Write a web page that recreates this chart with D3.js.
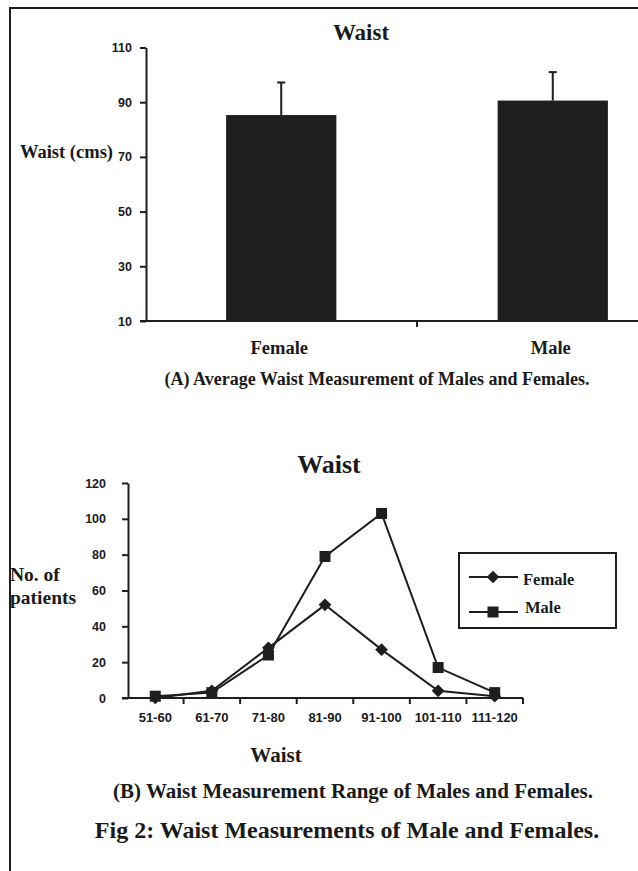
<!DOCTYPE html>
<html>
<head>
<meta charset="utf-8">
<script src="https://cdn.jsdelivr.net/npm/d3@7"></script>
<style>
  body { margin: 0; background: #fff; }
  svg { display: block; }
  .serif { font-family: "Liberation Serif", "Times New Roman", serif; font-weight: bold; fill: #1a1a1a; }
  .sans { font-family: "Liberation Sans", Arial, sans-serif; font-weight: bold; fill: #1a1a1a; }
</style>
</head>
<body>
<div id="chart"></div>
<script>
// (A) average waist
const sexes = ['Female', 'Male']
const avgWaist = [85.3, 90.6]
const waistErr = [11.9, 10.4]
const barTicks = [10, 30, 50, 70, 90, 110]

// (B) waist ranges
const ranges = ['51-60', '61-70', '71-80', '81-90', '91-100', '101-110', '111-120']
const femaleCounts = [0, 4, 28, 52, 27, 4, 1]
const maleCounts = [1, 3, 24, 79, 103, 17, 3]
const countTicks = [0, 20, 40, 60, 80, 100, 120]

const ink = '#1f1d1e'
const width = 638
const height = 871

const svg = d3.select('#chart')
    .append('svg')
    .attr('width', width)
    .attr('height', height)

// page frame
svg.append('path')
    .attr('d', `M10,${height} L10,8 L${width},8`)
    .attr('fill', 'none')
    .attr('stroke', ink)
    .attr('stroke-width', 2)

// ---------- top chart ----------
const xBar = d3.scaleBand().domain(sexes).range([146, 688]).paddingInner(0.594).paddingOuter(0.295)
const yBar = d3.scaleLinear().domain([10, 110]).range([321, 47.5])

svg.append('text').attr('class', 'serif')
    .attr('x', 361).attr('y', 40)
    .attr('text-anchor', 'middle')
    .style('font-size', '23px')
    .text('Waist')

svg.selectAll('rect.bar')
    .data(avgWaist)
    .enter()
    .append('rect')
    .attr('class', 'bar')
    .attr('x', (d, i) => xBar(sexes[i]))
    .attr('y', (d) => yBar(d))
    .attr('width', xBar.bandwidth())
    .attr('height', (d) => yBar(10) - yBar(d))
    .attr('fill', ink)

const errG = svg.selectAll('g.err')
    .data(avgWaist)
    .enter()
    .append('g')
    .attr('class', 'err')
errG.append('line')
    .attr('x1', (d, i) => xBar(sexes[i]) + xBar.bandwidth() / 2)
    .attr('x2', (d, i) => xBar(sexes[i]) + xBar.bandwidth() / 2)
    .attr('y1', (d) => yBar(d))
    .attr('y2', (d, i) => yBar(d + waistErr[i]))
    .attr('stroke', ink).attr('stroke-width', 2)
errG.append('line')
    .attr('x1', (d, i) => xBar(sexes[i]) + xBar.bandwidth() / 2 - 4)
    .attr('x2', (d, i) => xBar(sexes[i]) + xBar.bandwidth() / 2 + 4)
    .attr('y1', (d, i) => yBar(d + waistErr[i]))
    .attr('y2', (d, i) => yBar(d + waistErr[i]))
    .attr('stroke', ink).attr('stroke-width', 2)

const yBarAxis = svg.append('g')
    .attr('transform', 'translate(146,0)')
    .call(d3.axisLeft(yBar).tickValues(barTicks).tickSize(6).tickSizeOuter(0).tickPadding(8))
yBarAxis.select('.domain').attr('stroke', ink).attr('stroke-width', 2)
yBarAxis.selectAll('.tick line').attr('stroke', ink).attr('stroke-width', 2)
yBarAxis.selectAll('.tick text').attr('class', 'sans').style('font-size', '12.5px')

// x axis line + boundary ticks
svg.append('line')
    .attr('x1', 140).attr('x2', 688)
    .attr('y1', yBar(10)).attr('y2', yBar(10))
    .attr('stroke', ink).attr('stroke-width', 2)
svg.selectAll('line.btick')
    .data(sexes.slice(1))
    .enter()
    .append('line')
    .attr('class', 'btick')
    .attr('x1', (d) => xBar(d) - xBar.step() * xBar.paddingInner() / 2)
    .attr('x2', (d) => xBar(d) - xBar.step() * xBar.paddingInner() / 2)
    .attr('y1', yBar(10)).attr('y2', yBar(10) + 6)
    .attr('stroke', ink).attr('stroke-width', 2)

svg.selectAll('text.sexlab')
    .data(sexes)
    .enter()
    .append('text')
    .attr('class', 'serif sexlab')
    .attr('x', (d) => xBar(d) + xBar.bandwidth() / 2 - 2)
    .attr('y', 354)
    .attr('text-anchor', 'middle')
    .style('font-size', '18.5px')
    .text((d) => d)

svg.append('text').attr('class', 'serif')
    .attr('x', 20).attr('y', 158)
    .style('font-size', '18.5px')
    .text('Waist (cms)')

svg.append('text').attr('class', 'serif')
    .attr('x', 377).attr('y', 385)
    .attr('text-anchor', 'middle')
    .style('font-size', '18px')
    .text('(A) Average Waist Measurement of Males and Females.')

// ---------- bottom chart ----------
const xLine = d3.scaleBand().domain(ranges).range([127, 523])
const yLine = d3.scaleLinear().domain([0, 120]).range([698, 483])
const cx = (d) => xLine(d) + xLine.bandwidth() / 2

svg.append('text').attr('class', 'serif')
    .attr('x', 329).attr('y', 473)
    .attr('text-anchor', 'middle')
    .style('font-size', '26px')
    .text('Waist')

const yLineAxis = svg.append('g')
    .attr('transform', 'translate(128,0)')
    .call(d3.axisLeft(yLine).tickValues(countTicks).tickSize(6).tickSizeOuter(0).tickPadding(16))
yLineAxis.select('.domain').attr('stroke', ink).attr('stroke-width', 2)
yLineAxis.selectAll('.tick line').attr('stroke', ink).attr('stroke-width', 2)
yLineAxis.selectAll('.tick text').attr('class', 'sans').style('font-size', '12.5px')

svg.append('line')
    .attr('x1', 122).attr('x2', 523)
    .attr('y1', yLine(0)).attr('y2', yLine(0))
    .attr('stroke', ink).attr('stroke-width', 2)
svg.selectAll('line.rtick')
    .data(ranges)
    .enter()
    .append('line')
    .attr('class', 'rtick')
    .attr('x1', (d) => xLine(d) + xLine.step())
    .attr('x2', (d) => xLine(d) + xLine.step())
    .attr('y1', yLine(0)).attr('y2', yLine(0) + 6)
    .attr('stroke', ink).attr('stroke-width', 2)

svg.selectAll('text.rlab')
    .data(ranges)
    .enter()
    .append('text')
    .attr('class', 'sans rlab')
    .attr('x', (d) => cx(d))
    .attr('y', 722)
    .attr('text-anchor', 'middle')
    .style('font-size', '13px')
    .text((d) => d)

const line = d3.line()
    .x((d, i) => cx(ranges[i]))
    .y((d) => yLine(d))

const series = [
    { name: 'Female', values: femaleCounts, shape: 'diamond' },
    { name: 'Male', values: maleCounts, shape: 'square' }
]
const diamond = d3.symbol().type(d3.symbolSquare).size(81)
const square = d3.symbol().type(d3.symbolSquare).size(121)

series.forEach((s) => {
    svg.append('path')
        .attr('d', line(s.values))
        .attr('fill', 'none')
        .attr('stroke', ink)
        .attr('stroke-width', 2)
    svg.selectAll('path.m-' + s.shape)
        .data(s.values)
        .enter()
        .append('path')
        .attr('class', 'm-' + s.shape)
        .attr('d', s.shape === 'diamond' ? diamond() : square())
        .attr('transform', (d, i) => `translate(${cx(ranges[i])},${yLine(d)})` + (s.shape === 'diamond' ? ' rotate(45)' : ''))
        .attr('fill', ink)
})

// legend
const legend = svg.append('g')
svg.append('rect')
    .attr('x', 459).attr('y', 553)
    .attr('width', 157).attr('height', 75)
    .attr('fill', 'none')
    .attr('stroke', ink)
    .attr('stroke-width', 2)
const legendY = [577, 612]
series.forEach((s, i) => {
    legend.append('line')
        .attr('x1', 469).attr('x2', 518)
        .attr('y1', legendY[i]).attr('y2', legendY[i])
        .attr('stroke', ink).attr('stroke-width', 2)
    legend.append('path')
        .attr('d', s.shape === 'diamond' ? diamond() : square())
        .attr('transform', `translate(493,${legendY[i]})` + (s.shape === 'diamond' ? ' rotate(45)' : ''))
        .attr('fill', ink)
    legend.append('text').attr('class', 'serif')
        .attr('x', i === 0 ? 523 : 525)
        .attr('y', i === 0 ? 585 : 613)
        .style('font-size', '16.5px')
        .text(s.name)
})

svg.append('text').attr('class', 'serif')
    .attr('x', 10).attr('y', 581)
    .style('font-size', '19.5px')
    .text('No. of')
svg.append('text').attr('class', 'serif')
    .attr('x', 10).attr('y', 604)
    .style('font-size', '19.5px')
    .text('patients')

svg.append('text').attr('class', 'serif')
    .attr('x', 276).attr('y', 762)
    .attr('text-anchor', 'middle')
    .style('font-size', '21px')
    .text('Waist')

svg.append('text').attr('class', 'serif')
    .attr('x', 353).attr('y', 798)
    .attr('text-anchor', 'middle')
    .style('font-size', '21px')
    .text('(B) Waist Measurement Range of Males and Females.')

svg.append('text').attr('class', 'serif')
    .attr('x', 347).attr('y', 838)
    .attr('text-anchor', 'middle')
    .style('font-size', '24px')
    .text('Fig 2: Waist Measurements of Male and Females.')
</script>
</body>
</html>
